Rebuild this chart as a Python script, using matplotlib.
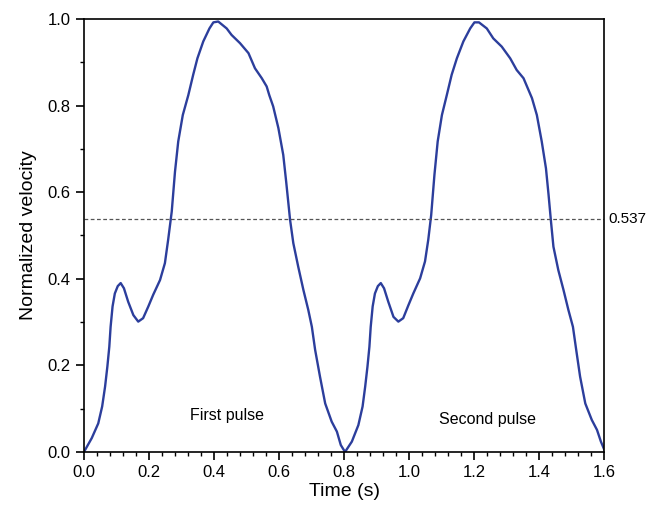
import matplotlib.pyplot as plt
from matplotlib.ticker import MultipleLocator

plt.rcParams['font.family'] = ['Liberation Sans', 'DejaVu Sans']

# first pulse
t1 = [0.000, 0.024, 0.044, 0.056, 0.065, 0.072, 0.078, 0.082, 0.088, 0.095,
      0.104, 0.113, 0.123, 0.136, 0.152, 0.167, 0.182, 0.198, 0.213, 0.234,
      0.249, 0.259, 0.270, 0.280, 0.290, 0.304, 0.321, 0.336, 0.349, 0.367,
      0.386, 0.398, 0.413, 0.439, 0.454, 0.480, 0.506, 0.526, 0.547, 0.562,
      0.570, 0.582, 0.598, 0.613, 0.622, 0.634, 0.644, 0.659, 0.675,
      0.690, 0.701, 0.711, 0.726, 0.742, 0.762, 0.778, 0.790, 0.803]
v1 = [0.000, 0.032, 0.066, 0.105, 0.151, 0.197, 0.243, 0.289, 0.336, 0.366,
      0.383, 0.390, 0.378, 0.347, 0.316, 0.301, 0.309, 0.336, 0.363, 0.397,
      0.436, 0.490, 0.555, 0.647, 0.717, 0.778, 0.824, 0.871, 0.909, 0.948,
      0.978, 0.992, 0.994, 0.978, 0.963, 0.944, 0.921, 0.886, 0.863, 0.844,
      0.824, 0.798, 0.748, 0.686, 0.624, 0.536, 0.482, 0.428, 0.374,
      0.328, 0.289, 0.236, 0.174, 0.112, 0.070, 0.047, 0.016, 0.000]

# second pulse
t2 = [0.803, 0.824, 0.844, 0.857, 0.865, 0.872, 0.878, 0.882, 0.888, 0.895,
      0.904, 0.913, 0.923, 0.936, 0.952, 0.967, 0.982, 0.998, 1.013, 1.034,
      1.049, 1.059, 1.068, 1.078, 1.088, 1.101, 1.116, 1.131, 1.147, 1.167,
      1.188, 1.201, 1.215, 1.239, 1.259, 1.285, 1.311, 1.331, 1.352, 1.365,
      1.378, 1.393, 1.408, 1.421, 1.429, 1.436, 1.444, 1.459, 1.475, 1.490,
      1.504, 1.514, 1.526, 1.542, 1.562, 1.578, 1.590, 1.600]
v2 = [0.000, 0.024, 0.062, 0.105, 0.151, 0.197, 0.243, 0.289, 0.336, 0.366,
      0.383, 0.390, 0.378, 0.347, 0.312, 0.301, 0.309, 0.339, 0.366, 0.401,
      0.440, 0.490, 0.547, 0.640, 0.717, 0.778, 0.824, 0.871, 0.909, 0.948,
      0.978, 0.992, 0.992, 0.978, 0.955, 0.936, 0.909, 0.882, 0.863, 0.840,
      0.817, 0.778, 0.717, 0.655, 0.594, 0.536, 0.474, 0.420, 0.374, 0.328,
      0.289, 0.236, 0.174, 0.112, 0.074, 0.051, 0.024, 0.006]

threshold = 0.537

fig = plt.figure(figsize=(6.61, 5.11), dpi=100)
ax = fig.add_axes([0.127, 0.1155, 0.787, 0.8475])

color = '#2c3e9c'
ax.plot(t1, v1, color=color, lw=1.7, solid_joinstyle='round')
ax.plot(t2, v2, color=color, lw=1.7, solid_joinstyle='round')
ax.axhline(threshold, color='#555555', lw=0.9, ls=(0, (3, 2)))
ax.text(1.612, threshold, '%.3f' % threshold, va='center', ha='left', fontsize=11)

ax.text(0.44, 0.085, 'First pulse', ha='center', va='center', fontsize=11.5)
ax.text(1.24, 0.076, 'Second pulse', ha='center', va='center', fontsize=11.5)

ax.set_xlim(0, 1.6)
ax.set_ylim(0, 1.0)
ax.xaxis.set_major_locator(MultipleLocator(0.2))
ax.xaxis.set_minor_locator(MultipleLocator(0.04))
ax.yaxis.set_major_locator(MultipleLocator(0.2))
ax.yaxis.set_minor_locator(MultipleLocator(0.1))
ax.tick_params(which='both', direction='out', top=False, right=False, labelsize=12)
ax.tick_params(which='major', length=6, width=1.2)
ax.tick_params(which='minor', length=3, width=1.0)
for s in ax.spines.values():
    s.set_linewidth(1.2)

ax.set_xlabel('Time (s)', fontsize=14, labelpad=2)
ax.set_ylabel('Normalized velocity', fontsize=14, labelpad=8)

fig.savefig('out.png', dpi=100)
